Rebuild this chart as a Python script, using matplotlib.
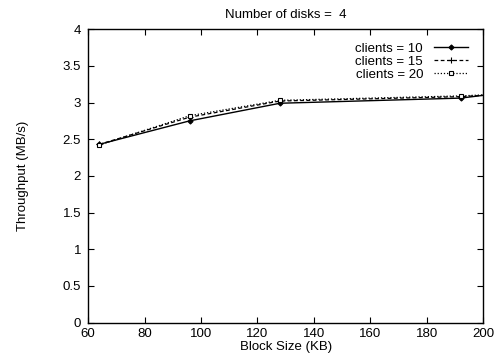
import matplotlib
matplotlib.use("Agg")
import matplotlib.pyplot as plt
from matplotlib.ticker import FuncFormatter

plt.rcParams['font.family'] = ['Liberation Sans', 'DejaVu Sans']

block_size = [64, 96, 128, 192, 256]
clients_10 = [2.43, 2.75, 2.99, 3.06, 3.36]
clients_15 = [2.43, 2.80, 3.02, 3.08, 3.22]
clients_20 = [2.42, 2.82, 3.03, 3.09, 3.20]

series = [
    ("clients = 10", clients_10, dict(linestyle='-', marker='D', markersize=2.6,
                                      markerfacecolor='black', linewidth=1.0)),
    ("clients = 15", clients_15, dict(linestyle=(0, (3, 2)), marker='+', markersize=4.5,
                                      linewidth=0.9)),
    ("clients = 20", clients_20, dict(linestyle=(0, (1, 1.5)), marker='s', markersize=3.5,
                                      markerfacecolor='white', linewidth=0.9)),
]

fig = plt.figure(figsize=(4.95, 3.6), dpi=100)
ax = fig.add_axes([0.178, 0.104, 0.798, 0.815])

for label, vals, style in series:
    ax.plot(block_size, vals, color='black', label=label, markeredgewidth=0.8,
            clip_on=True, **style)

ax.set_xlim(60, 200)
ax.set_ylim(0, 4)
ax.set_xticks(range(60, 201, 20))
ax.set_yticks([i * 0.5 for i in range(9)])
ax.yaxis.set_major_formatter(FuncFormatter(lambda v, p: f"{v:g}"))
ax.tick_params(direction='in', top=True, right=True, length=4, width=0.8,
               labelsize=9.5)
ax.tick_params(axis='x', pad=4)
ax.tick_params(axis='y', pad=5)
for sp in ax.spines.values():
    sp.set_linewidth(1.0)

ax.set_xlabel("Block Size (KB)", fontsize=9.5, labelpad=0.5)
ax.set_ylabel("Throughput (MB/s)", fontsize=9.5, labelpad=24)
ax.set_title("Number of disks =  4", fontsize=9.5, pad=8)

leg = ax.legend(loc='upper right', bbox_to_anchor=(0.985, 0.985), frameon=False,
                markerfirst=False, fontsize=9.5, handlelength=2.6, handletextpad=0.8,
                labelspacing=0.05, borderaxespad=0.3)

fig.savefig("out.png", dpi=100)
